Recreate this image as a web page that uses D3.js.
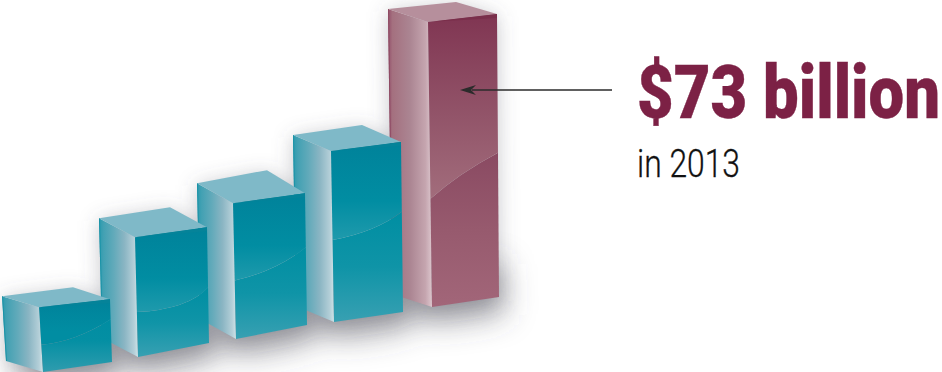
<!DOCTYPE html>
<html>
<head>
<meta charset="utf-8">
<style>
  html, body { margin: 0; padding: 0; background: #fff; }
  svg { display: block; }
</style>
<script src="https://cdn.jsdelivr.net/npm/d3@7/dist/d3.min.js"></script>
</head>
<body>
<svg id="chart" width="942" height="372"></svg>
<script>
// Values in billions of dollars, oldest first; the last one is the labelled bar.
const values = [16.6, 30.7, 34.8, 43.8, 73];
const highlightAmount = 73;
const highlightYear = 2013;

const W = 942, H = 372;
const svg = d3.select("#chart").attr("viewBox", [0, 0, W, H]);
const order = d3.range(values.length);
const lookup = r => d3.scaleOrdinal(order, r);

// Bar height and the rising floor line the bars stand on.
const height = d3.scaleLinear().domain([0, 73]).range([0, 285]);
const baseX = lookup([43, 138, 236, 334, 432]);
const baseY = lookup([372, 357, 339, 322, 307]);

// Hand-drawn perspective: every box is viewed from a slightly different angle.
const faceW   = lookup([71, 72, 72, 70, 69]);
const riseTop = lookup([8, 10, 10, 9, 8]);
const riseBot = lookup([10, 14, 14, 10, 10]);
const depthX  = lookup([-37, -36, -36, -38, -40]);
const depthY  = lookup([-11, -19, -20, -16, -13]);
const backX   = lookup([34, 35, 34, 31, 28]);
const backY   = lookup([-20, -30, -33, -26, -20]);
const lean    = lookup([4, 3, 3, 3, 4]);
// Where the gloss curve meets the front face, as a share of its height.
const glossL  = lookup([.58, .625, .57, .52, .62]);
const glossR  = lookup([.32, .52, .41, .41, .49]);
const glossBow = lookup([.5, .72, .6, .62, .42]);
const glossLift = lookup([.12, .12, .3, .28, .55]);

const palette = i => i === values.length - 1 ? "rose" : i === 0 ? "tealflat" : "teal";
const sideKey = i => i === values.length - 1 ? "rose" : "teal";
const lipColor = { teal: "#058399", rose: "#7a2f4b" };
const topColor = { teal: "#7fb9c8", rose: "#b68f9c" };
const edgeColor = { teal: "#1b93a7", rose: "#8f4a63" };

const defs = svg.append("defs");
function gradient(id, stops, horizontal) {
  const g = defs.append("linearGradient").attr("id", id)
    .attr("x1", 0).attr("y1", 0)
    .attr("x2", horizontal ? 1 : 0).attr("y2", horizontal ? 0 : 1);
  g.selectAll("stop").data(stops).join("stop")
    .attr("offset", d => d[0]).attr("stop-color", d => d[1]);
}
gradient("side-teal", [[0, "#2b9aae"], [.12, "#43a1b3"], [.38, "#62aaba"], [.65, "#8ab5c3"], [.9, "#b4cfd8"], [1, "#cfe2e7"]], true);
gradient("side-rose", [[0, "#93506a"], [.1, "#a4707f"], [.5, "#ab8592"], [.85, "#c5a5af"], [1, "#dcc6cd"]], true);
gradient("upper-teal", [[0, "#00829a"], [.6, "#018da2"], [1, "#1f9aac"]]);
gradient("lower-teal", [[0, "#008ea2"], [.5, "#0f94a7"], [1, "#38a0b2"]]);
gradient("upper-tealflat", [[0, "#00829a"], [.7, "#018da2"], [1, "#018da2"]]);
gradient("lower-tealflat", [[0, "#018da2"], [.4, "#048fa3"], [1, "#2f9cae"]]);
gradient("upper-rose", [[0, "#803552"], [.55, "#925469"], [1, "#a26d7c"]]);
gradient("lower-rose", [[0, "#8a4a62"], [.5, "#975a6e"], [1, "#a26679"]]);

function softFilter(id, sd) {
  defs.append("filter").attr("id", id)
    .attr("x", "-60%").attr("y", "-60%").attr("width", "220%").attr("height", "220%")
    .append("feGaussianBlur").attr("stdDeviation", sd);
}
softFilter("halo", 10);
softFilter("pool", 15);

// Corner points of one box, derived from its value.
function box(v, i) {
  const h = height(v);
  const bl = [baseX(i), baseY(i)];
  const tl = [bl[0] - lean(i), bl[1] - h];
  const tr = [tl[0] + faceW(i), tl[1] - riseTop(i)];
  const br = [tr[0] + 2, bl[1] - riseBot(i)];
  const lt = [tl[0] + depthX(i), tl[1] + depthY(i)];
  const lb = [bl[0] + depthX(i), bl[1] + depthY(i)];
  const back = [tl[0] + backX(i), tl[1] + backY(i)];
  const lipR = [tr[0], tr[1] + 4];
  const gl = [tl[0] + (bl[0] - tl[0]) * glossL(i), tl[1] + (bl[1] - tl[1]) * glossL(i)];
  const gr = [tr[0] + (br[0] - tr[0]) * glossR(i), tr[1] + (br[1] - tr[1]) * glossR(i)];
  const gc = [gl[0] + (gr[0] - gl[0]) * glossBow(i), gl[1] + (gr[1] - gl[1]) * glossLift(i)];
  return { bl, br, tl, tr, lt, lb, back, lipR, gl, gr, gc };
}
const poly = pts => "M" + pts.map(p => p.join(",")).join("L") + "Z";

const boxes = values.map((v, i) => ({ i, ...box(v, i) }));
// Front bars overlap the ones behind them, so paint from the tallest down.
const painted = boxes.slice().reverse();
const outline = b => poly([b.lt, b.back, b.tr, b.br, b.bl, b.lb]);
const floorPatch = b => poly([b.lb, b.tl, b.tr, b.br, b.bl].map((p, k) => k === 1 || k === 2 ? [p[0], Math.max(p[1], b.bl[1] - 60)] : p));

// Soft cast shadow: a pool on the floor and a faint halo around the boxes.
svg.append("g").attr("filter", "url(#pool)")
  .selectAll("path").data(painted).join("path")
  .attr("d", floorPatch).attr("transform", "translate(6,17)")
  .attr("fill", "#4c4c58").attr("fill-opacity", .5);
svg.append("g").attr("filter", "url(#halo)")
  .selectAll("path").data(painted).join("path")
  .attr("d", outline).attr("transform", "translate(0,3)")
  .attr("fill", "#5a5a68").attr("fill-opacity", .34);

const bars = svg.append("g").selectAll("g").data(painted).join("g");

bars.append("path").attr("d", b => poly([b.lt, b.tl, b.bl, b.lb]))
  .attr("fill", b => `url(#side-${sideKey(b.i)})`);
bars.append("path").attr("d", b => poly([b.lt, b.lb, [b.lb[0] + 1, b.lb[1]], [b.lt[0] + 1, b.lt[1]]]))
  .attr("fill", b => edgeColor[sideKey(b.i)]);
bars.append("path").attr("d", b => poly([b.lt, b.back, b.tr, b.tl]))
  .attr("fill", b => topColor[sideKey(b.i)]);

// Front face: the part under the gloss curve, then the part over it.
bars.append("path")
  .attr("d", b => `M${b.gl}Q${b.gc} ${b.gr}L${b.br}L${b.bl}Z`)
  .attr("fill", b => `url(#lower-${palette(b.i)})`);
bars.append("path")
  .attr("d", b => `M${b.tl}L${b.tr}L${b.gr}Q${b.gc} ${b.gl}Z`)
  .attr("fill", b => `url(#upper-${palette(b.i)})`);
bars.append("path").attr("d", b => poly([b.tl, b.tr, b.lipR]))
  .attr("fill", b => lipColor[sideKey(b.i)]);

// Pointer from the label to the highlighted bar.
const headLen = 16, headHalf = 5;
const arrowY = 90, arrowFrom = 612, arrowTo = 460;
svg.append("line")
  .attr("x1", arrowFrom).attr("x2", arrowTo + headLen - 4)
  .attr("y1", arrowY).attr("y2", arrowY)
  .attr("stroke", "#2b2b2b").attr("stroke-width", 1.3);
svg.append("path")
  .attr("d", `M${arrowTo},${arrowY}L${arrowTo + headLen},${arrowY - headHalf}L${arrowTo + headLen - 5},${arrowY}L${arrowTo + headLen},${arrowY + headHalf}Z`)
  .attr("fill", "#2b2b2b");

// Text set to a given run width by squeezing it horizontally.
function fittedText(str, x, y, width, size, weight, fill, stroke) {
  const t = svg.append("text")
    .attr("font-family", "Roboto, sans-serif").attr("font-weight", weight)
    .attr("font-size", size).attr("fill", fill)
    .attr("stroke", fill).attr("stroke-width", stroke)
    .text(str);
  const natural = t.node().getComputedTextLength();
  t.attr("transform", `translate(${x},${y}) scale(${width / natural},1)`);
}
fittedText(`$${highlightAmount} billion`, 637, 118, 303, 74, 900, "#7c2145", .4);
fittedText(`in ${highlightYear}`, 637, 177, 103, 38, 300, "#111", .3);
</script>
</body>
</html>
